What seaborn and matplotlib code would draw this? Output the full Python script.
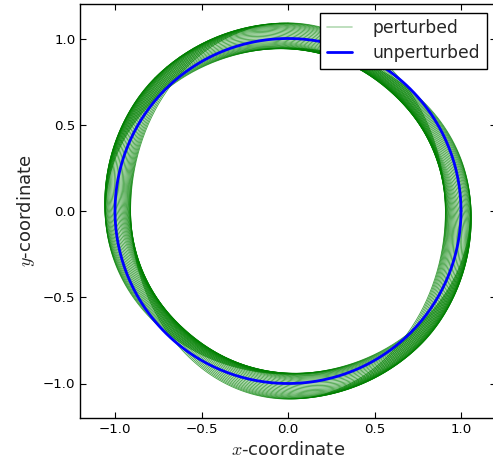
import numpy as np
import pandas as pd
import matplotlib
matplotlib.use("Agg")
import matplotlib.pyplot as plt
import seaborn as sns

# ---- data ----
# each perturbed orbit: orientation of its long axis (deg) and its deformation
orientation_deg = [90, 92.5, 95, 97.5, 100, 102.5, 105, 107.5, 110, 112.5,
                   115, 117.5, 120, 122.5, 125, 127.5, 130, 132.5, 135,
                   137.5, 140, 142.5, 145, 147.5, 150, 152.5, 155, 157.5,
                   160, 162.5, 165, 167.5, 170, 172.5, 175, 177.5, 180]
deformation = [0.09, 0.09, 0.09, 0.09, 0.09, 0.09, 0.09, 0.09, 0.09, 0.09,
               0.09, 0.09, 0.09, 0.09, 0.09, 0.09, 0.09, 0.09, 0.09,
               0.089, 0.087, 0.085, 0.083, 0.081, 0.079, 0.077, 0.075, 0.073,
               0.071, 0.069, 0.067, 0.065, 0.063, 0.061, 0.059, 0.057, 0.055]
unperturbed_radius = 1.0
tick_values = [-1.0, -0.5, 0.0, 0.5, 1.0]
axis_limits = (-1.2, 1.2)
series_labels = ["perturbed", "unperturbed"]

sns.set_style("ticks")
plt.rcParams.update({
    "font.family": ["DejaVu Sans"],
    "mathtext.fontset": "cm",
    "xtick.direction": "in", "ytick.direction": "in",
    "xtick.top": True, "ytick.right": True,
    "xtick.major.size": 4, "ytick.major.size": 4,
    "xtick.color": "black", "ytick.color": "black",
    "axes.edgecolor": "black", "axes.linewidth": 1.0,
})

t = np.linspace(0, 2 * np.pi, 600)
rows = []
for k, (phi_d, eps) in enumerate(zip(orientation_deg, deformation)):
    phi = np.deg2rad(phi_d)
    a, b = unperturbed_radius + eps, unperturbed_radius - eps
    x = a * np.cos(t) * np.cos(phi) - b * np.sin(t) * np.sin(phi)
    y = a * np.cos(t) * np.sin(phi) + b * np.sin(t) * np.cos(phi)
    rows.append(pd.DataFrame({"x": x, "y": y, "orbit": k}))
pert = pd.concat(rows, ignore_index=True)
circ = pd.DataFrame({"x": unperturbed_radius * np.cos(t),
                     "y": unperturbed_radius * np.sin(t)})

fig = plt.figure(figsize=(4.93, 4.63), dpi=100)
fig.patch.set_facecolor("white")
ax = fig.add_axes([80.4 / 493, 45 / 463, 415.2 / 493, 414 / 463])

sns.lineplot(data=pert, x="x", y="y", units="orbit", estimator=None, sort=False,
             color="green", alpha=0.75, lw=0.6, legend=False, ax=ax)
sns.lineplot(data=circ, x="x", y="y", estimator=None, sort=False,
             color="blue", lw=2, legend=False, ax=ax)

ax.set_xlim(*axis_limits)
ax.set_ylim(*axis_limits)
ax.set_xticks(tick_values)
ax.set_yticks(tick_values)
ax.set_xticklabels([f"{v:.1f}".replace("-", "\u2212") for v in tick_values], fontsize=9.6)
ax.set_yticklabels([f"{v:.1f}".replace("-", "\u2212") for v in tick_values], fontsize=9.6)
ax.set_xlabel("$x$-coordinate", fontsize=13)
ax.set_ylabel("$y$-coordinate", fontsize=13)

pert_handle = matplotlib.lines.Line2D([], [], color="green", alpha=0.3, lw=1.2)
handles = [pert_handle, ax.lines[-1]]
leg = ax.legend(handles, series_labels, loc="upper right", fontsize=12.3,
                fancybox=False, framealpha=1, edgecolor="black",
                handlelength=1.5, handletextpad=1.2, borderaxespad=0.5,
                labelspacing=0.4)
leg.get_frame().set_linewidth(1.0)

fig.savefig("out.png", dpi=100, facecolor="white")
